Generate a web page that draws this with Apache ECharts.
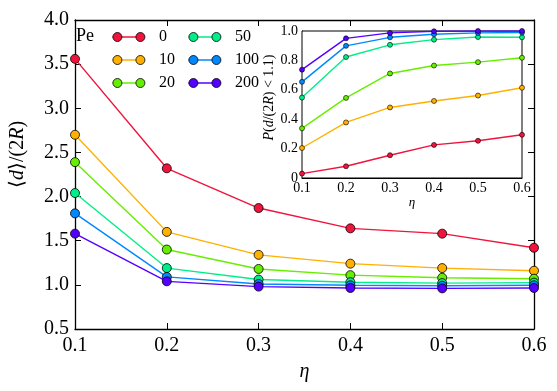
<!DOCTYPE html>
<html><head><meta charset="utf-8">
<script src="https://cdn.jsdelivr.net/npm/echarts@6/dist/echarts.min.js"></script>
<style>html,body{margin:0;padding:0;background:#fff}#c{width:557px;height:391px}</style>
</head><body><div id="c"></div>
<script>
const eta = [0.1, 0.2, 0.3, 0.4, 0.5, 0.6];
const peLabels = ['0', '10', '20', '50', '100', '200'];
const colors = ['#f0143c', '#ffb000', '#66ee00', '#00ee88', '#0088ff', '#5500ff'];
// main: <d>/(2R)
const dPe0   = [3.56, 2.32, 1.87, 1.64, 1.58, 1.42];
const dPe10  = [2.70, 1.60, 1.34, 1.24, 1.19, 1.16];
const dPe20  = [2.39, 1.40, 1.18, 1.11, 1.08, 1.07];
const dPe50  = [2.04, 1.19, 1.06, 1.03, 1.02, 1.025];
const dPe100 = [1.81, 1.09, 1.01, 0.995, 0.99, 0.995];
const dPe200 = [1.58, 1.04, 0.98, 0.965, 0.96, 0.965];
// inset: P(d/(2R) < 1.1)
const pPe0   = [0.03, 0.08, 0.155, 0.225, 0.253, 0.294];
const pPe10  = [0.204, 0.378, 0.48, 0.524, 0.561, 0.614];
const pPe20  = [0.338, 0.545, 0.711, 0.765, 0.788, 0.818];
const pPe50  = [0.547, 0.823, 0.906, 0.941, 0.959, 0.957];
const pPe100 = [0.654, 0.899, 0.957, 0.978, 0.987, 0.99];
const pPe200 = [0.737, 0.95, 0.987, 0.998, 1.0, 1.0];

const mainData = [dPe0, dPe10, dPe20, dPe50, dPe100, dPe200];
const insetData = [pPe0, pPe10, pPe20, pPe50, pPe100, pPe200];

const FONT = 'Liberation Serif';
const pair = arr => eta.map((x, i) => [x, arr[i]]);

const series = [];
mainData.forEach((arr, k) => {
  series.push({
    name: peLabels[k], type: 'line', xAxisIndex: 0, yAxisIndex: 0,
    data: pair(arr), symbol: 'circle', symbolSize: 9,
    lineStyle: { color: colors[k], width: 1.4 },
    itemStyle: { color: colors[k], borderColor: '#000', borderWidth: 0.8 },
    z: 3 + k, animation: false
  });
});
insetData.forEach((arr, k) => {
  series.push({
    name: peLabels[k], type: 'line', xAxisIndex: 2, yAxisIndex: 2,
    data: pair(arr), symbol: 'circle', symbolSize: 5,
    lineStyle: { color: colors[k], width: 1.4 },
    itemStyle: { color: colors[k], borderColor: '#000', borderWidth: 0.6 },
    z: 3 + k, animation: false
  });
});

const lineIcon = 'path://M0,0 L32,0 L32,1.4 L0,1.4 Z';
const circIcon = 'path://M0,4.5 A4.5,4.5 0 1,1 9,4.5 A4.5,4.5 0 1,1 0,4.5 Z M23,4.5 A4.5,4.5 0 1,1 32,4.5 A4.5,4.5 0 1,1 23,4.5 Z';
function legendPair(names, left) {
  const base = {
    orient: 'vertical', left: left, top: 29, padding: 0,
    itemWidth: 32, itemHeight: 9, itemGap: 7, selectedMode: false,
    data: names
  };
  return [
    Object.assign({}, base, {
      icon: lineIcon, z: 10,
      itemStyle: { borderWidth: 0 },
      textStyle: { color: 'rgba(0,0,0,0)', fontFamily: FONT, fontSize: 16, lineHeight: 9, padding: [0, 0, 0, 9] }
    }),
    Object.assign({}, base, {
      icon: circIcon, z: 11,
      itemStyle: { borderColor: '#000', borderWidth: 0.8 },
      textStyle: { color: '#000', fontFamily: FONT, fontSize: 16, lineHeight: 9, padding: [0, 0, 0, 9] }
    })
  ];
}
const legends = [].concat(
  legendPair(peLabels.slice(0, 3), 112.5),
  legendPair(peLabels.slice(3, 6), 188.5)
);

const fmt1 = v => v.toFixed(1);
const axisLineBlack = { show: true, lineStyle: { color: '#000', width: 1.3 } };

const option = {
  animation: false,
  color: colors,
  textStyle: { fontFamily: FONT },
  title: { text: 'Pe', left: 76, top: 27, padding: 0,
    textStyle: { fontFamily: FONT, fontSize: 18, fontWeight: 'normal', color: '#000' } },
  legend: legends,
  grid: [
    { left: 69, right: 23, top: 20, bottom: 62, show: false },
    { left: 302, right: 35, top: 31, bottom: 213, show: true, backgroundColor: '#fff',
      borderColor: '#000', borderWidth: 1, z: 1 }
  ],
  xAxis: [
    { type: 'value', gridIndex: 0, min: 0.1, max: 0.6, interval: 0.1,
      name: 'η', nameLocation: 'middle', nameGap: 33,
      nameTextStyle: { fontFamily: FONT, fontSize: 20, fontStyle: 'italic', color: '#000' },
      axisLine: axisLineBlack,
      axisTick: { show: true, inside: true, length: 6, lineStyle: { color: '#000' } },
      axisLabel: { formatter: fmt1, fontSize: 20, color: '#000', margin: 7 },
      splitLine: { show: false } },
    { type: 'value', gridIndex: 0, position: 'top', min: 0.1, max: 0.6, interval: 0.1,
      axisLine: axisLineBlack,
      axisTick: { show: true, inside: true, length: 6, lineStyle: { color: '#000' } },
      axisLabel: { show: false }, splitLine: { show: false } },
    { type: 'value', gridIndex: 1, min: 0.1, max: 0.6, interval: 0.1,
      name: 'η', nameLocation: 'middle', nameGap: 14,
      nameTextStyle: { fontFamily: FONT, fontSize: 13, fontStyle: 'italic', color: '#000' },
      axisLine: { show: true, lineStyle: { color: '#000', width: 1 } },
      axisTick: { show: false },
      axisLabel: { formatter: fmt1, fontSize: 14, color: '#000', margin: 3 },
      splitLine: { show: false } }
  ],
  yAxis: [
    { type: 'value', gridIndex: 0, min: 0.5, max: 4.0, interval: 0.5,
      name: '{n|⟨}{i|d}{n|⟩/(2}{i|R}{n|)}', nameLocation: 'middle', nameGap: 47, nameRotate: 90,
      nameTextStyle: { color: '#000', padding: [0, 0, 0, 40], rich: {
        n: { fontFamily: FONT, fontSize: 20, color: '#000' },
        i: { fontFamily: FONT, fontSize: 20, fontStyle: 'italic', color: '#000' } } },
      axisLine: axisLineBlack,
      axisTick: { show: true, inside: true, length: 6, lineStyle: { color: '#000' } },
      axisLabel: { formatter: fmt1, fontSize: 20, color: '#000', margin: 6 },
      splitLine: { show: false } },
    { type: 'value', gridIndex: 0, position: 'right', min: 0.5, max: 4.0, interval: 0.5,
      axisLine: axisLineBlack,
      axisTick: { show: true, inside: true, length: 6, lineStyle: { color: '#000' } },
      axisLabel: { show: false }, splitLine: { show: false } },
    { type: 'value', gridIndex: 1, min: 0, max: 1.0, interval: 0.2,
      name: '{i|P}{n|(}{i|d}{n|/(2}{i|R}{n|) < 1.1)}', nameLocation: 'middle', nameGap: 24, nameRotate: 90,
      nameTextStyle: { color: '#000', padding: [0, 0, 0, 14], rich: {
        n: { fontFamily: FONT, fontSize: 14, color: '#000' },
        i: { fontFamily: FONT, fontSize: 14, fontStyle: 'italic', color: '#000' } } },
      axisLine: { show: true, lineStyle: { color: '#000', width: 1 } },
      axisTick: { show: false },
      axisLabel: { formatter: v => v === 0 ? '0' : v.toFixed(1), fontSize: 14, color: '#000', margin: 4 },
      splitLine: { show: false } }
  ],
  series: series
};
const chart = echarts.init(document.getElementById('c'), null, { renderer: 'canvas' });
chart.setOption(option);
</script></body></html>
